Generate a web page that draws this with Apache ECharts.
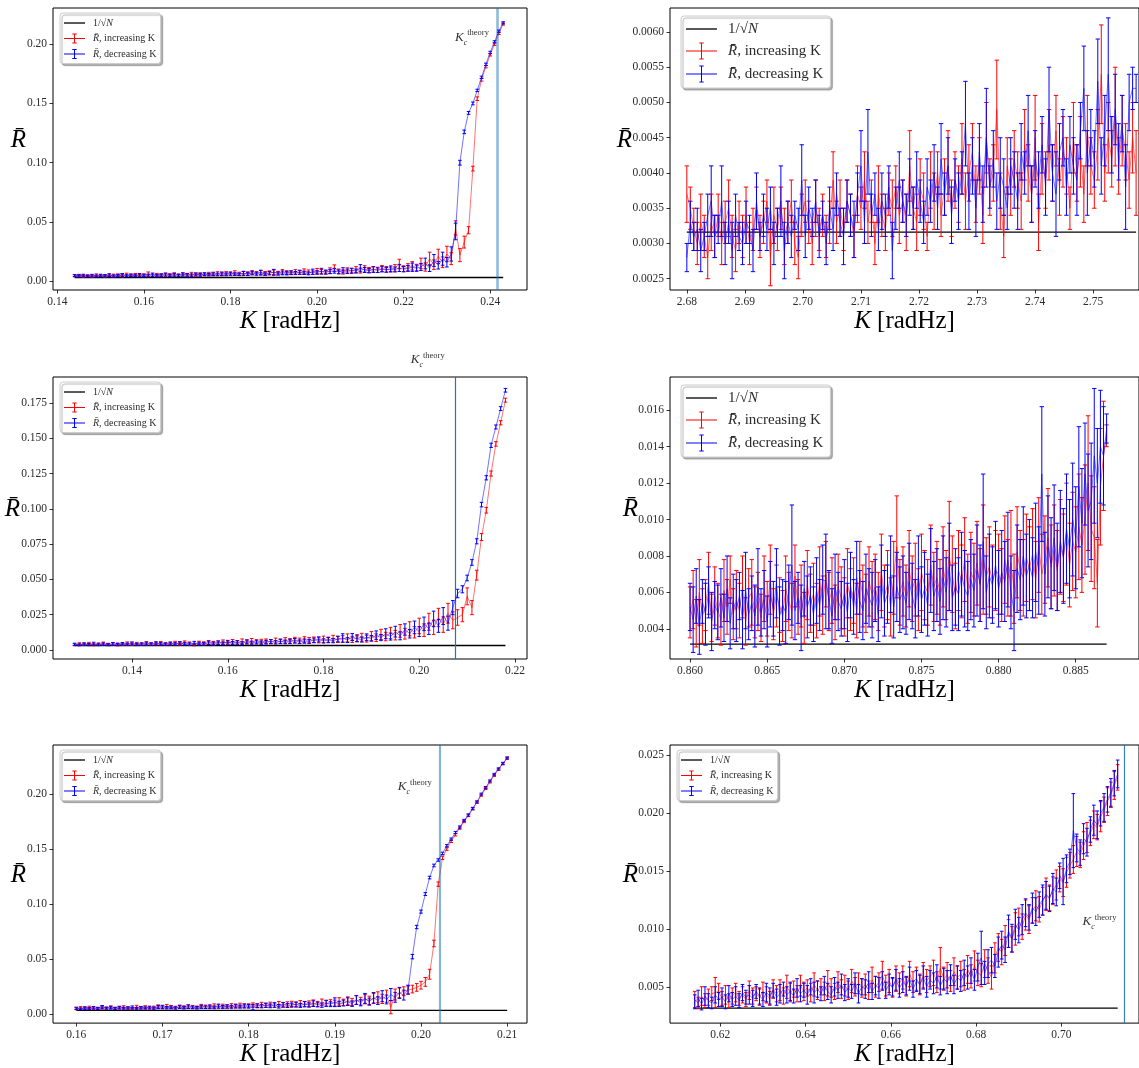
<!DOCTYPE html>
<html><head><meta charset="utf-8">
<script src="https://cdn.jsdelivr.net/npm/echarts@6.0.0/dist/echarts.min.js"></script>
<style>html,body{margin:0;padding:0;background:#fff}#c{width:1139px;height:1068px}</style>
</head><body><div id="c"></div><script>
// ---------------- DATA ----------------
const INV_SQRT_N = 0.00316;          // 1/sqrt(N)
const REF = '1/\u221AN';
const INC = 'R\u0304, increasing K';
const DEC = 'R\u0304, decreasing K';

// Panel 1 (top-left)
const p1KStart = 0.144, p1KStep = 0.001, p1Kc = 0.2416;
const p1Inc = [0.0046,0.0050,0.0044,0.0048,0.0043,0.0051,0.0047,0.0045,0.0050,0.0048,
0.0052,0.0047,0.0055,0.0049,0.0053,0.0048,0.0051,0.0058,0.0050,0.0054,
0.0049,0.0055,0.0052,0.0057,0.0051,0.0056,0.0054,0.0060,0.0053,0.0058,
0.0056,0.0061,0.0057,0.0064,0.0059,0.0066,0.0061,0.0070,0.0063,0.0068,
0.0065,0.0072,0.0066,0.0074,0.0068,0.0071,0.0076,0.0069,0.0078,0.0073,
0.0070,0.0079,0.0074,0.0083,0.0077,0.0072,0.0086,0.0080,0.0075,0.0089,
0.0110,0.0083,0.0078,0.0091,0.0086,0.0098,0.0090,0.0104,0.0094,0.0100,
0.0096,0.0107,0.0101,0.0098,0.0112,0.0145,0.0105,0.0118,0.0130,0.0115,
0.0150,0.0120,0.0190,0.0140,0.0210,0.0160,0.0230,0.0190,0.0450,0.0220,
0.0330,0.0430,0.0950,0.1540,0.1700,0.1810,0.1910,0.2000,0.2090,0.2170];
const p1IncErr = [0.0009,0.0008,0.0010,0.0007,0.0009,0.0011,0.0008,0.0010,0.0009,0.0012,
0.0009,0.0011,0.0013,0.0010,0.0012,0.0009,0.0011,0.0020,0.0010,0.0012,
0.0010,0.0012,0.0011,0.0014,0.0010,0.0013,0.0012,0.0015,0.0011,0.0013,
0.0012,0.0014,0.0012,0.0016,0.0013,0.0015,0.0014,0.0018,0.0013,0.0016,
0.0014,0.0017,0.0015,0.0018,0.0014,0.0016,0.0019,0.0015,0.0020,0.0016,
0.0015,0.0019,0.0016,0.0021,0.0018,0.0015,0.0022,0.0019,0.0016,0.0024,
0.0028,0.0020,0.0018,0.0022,0.0020,0.0025,0.0021,0.0027,0.0022,0.0024,
0.0022,0.0026,0.0024,0.0021,0.0028,0.0040,0.0025,0.0030,0.0035,0.0028,
0.0045,0.0035,0.0055,0.0040,0.0060,0.0045,0.0065,0.0050,0.0060,0.0055,
0.0050,0.0030,0.0020,0.0015,0.0012,0.0010,0.0010,0.0010,0.0009,0.0009];
const p1Dec = [0.0048,0.0045,0.0050,0.0043,0.0047,0.0044,0.0049,0.0046,0.0051,0.0045,
0.0048,0.0052,0.0046,0.0050,0.0047,0.0053,0.0049,0.0051,0.0055,0.0048,
0.0052,0.0056,0.0050,0.0054,0.0049,0.0057,0.0053,0.0051,0.0058,0.0054,
0.0060,0.0055,0.0062,0.0057,0.0063,0.0058,0.0065,0.0060,0.0058,0.0066,
0.0062,0.0069,0.0064,0.0072,0.0060,0.0068,0.0075,0.0065,0.0070,0.0067,
0.0073,0.0069,0.0076,0.0071,0.0066,0.0080,0.0074,0.0085,0.0078,0.0082,
0.0088,0.0079,0.0092,0.0084,0.0090,0.0086,0.0110,0.0095,0.0089,0.0098,
0.0093,0.0101,0.0096,0.0105,0.0099,0.0112,0.0102,0.0108,0.0118,0.0110,
0.0120,0.0150,0.0110,0.0175,0.0135,0.0190,0.0160,0.0230,0.0420,0.1000,
0.1260,0.1420,0.1500,0.1610,0.1720,0.1830,0.1930,0.2020,0.2110,0.2180];
const p1DecErr = [0.0008,0.0010,0.0009,0.0007,0.0011,0.0008,0.0010,0.0009,0.0012,0.0008,
0.0010,0.0013,0.0009,0.0011,0.0008,0.0012,0.0010,0.0009,0.0014,0.0010,
0.0011,0.0013,0.0009,0.0012,0.0010,0.0014,0.0011,0.0010,0.0013,0.0012,
0.0012,0.0010,0.0014,0.0011,0.0015,0.0012,0.0013,0.0011,0.0010,0.0016,
0.0013,0.0015,0.0012,0.0020,0.0011,0.0014,0.0025,0.0013,0.0016,0.0014,
0.0015,0.0013,0.0017,0.0014,0.0012,0.0022,0.0015,0.0024,0.0016,0.0018,
0.0020,0.0016,0.0022,0.0018,0.0020,0.0017,0.0030,0.0021,0.0018,0.0023,
0.0019,0.0022,0.0020,0.0024,0.0021,0.0030,0.0022,0.0025,0.0035,0.0026,
0.0030,0.0045,0.0028,0.0050,0.0032,0.0055,0.0040,0.0060,0.0070,0.0020,
0.0015,0.0012,0.0012,0.0010,0.0010,0.0010,0.0010,0.0009,0.0009,0.0009];
const p1XTicks = [0.14,0.16,0.18,0.20,0.22,0.24];
const p1YTicks = [0,0.05,0.10,0.15,0.20];

// Panel 2 (top-right)
const p2KStart = 2.680, p2KStep = 0.0006;
const p2Inc = [0.0037,0.0035,0.0032,0.0030,0.0033,0.0031,0.0028,0.0033,0.0031,0.0034,
0.0030,0.0033,0.0035,0.0031,0.0029,0.0033,0.0031,0.0034,0.0030,0.0032,
0.0035,0.0031,0.0033,0.0036,0.0028,0.0034,0.0032,0.0035,0.0031,0.0033,
0.0036,0.0030,0.0028,0.0034,0.0036,0.0033,0.0030,0.0035,0.0032,0.0034,
0.0031,0.0033,0.0039,0.0033,0.0035,0.0032,0.0036,0.0034,0.0031,0.0037,
0.0035,0.0039,0.0033,0.0036,0.0030,0.0037,0.0034,0.0032,0.0037,0.0035,
0.0038,0.0034,0.0036,0.0033,0.0041,0.0035,0.0033,0.0038,0.0036,0.0031,
0.0039,0.0036,0.0040,0.0034,0.0038,0.0041,0.0035,0.0039,0.0037,0.0042,
0.0036,0.0040,0.0043,0.0037,0.0041,0.0034,0.0045,0.0038,0.0040,0.0049,
0.0036,0.0031,0.0041,0.0038,0.0042,0.0039,0.0036,0.0044,0.0040,0.0037,
0.0045,0.0033,0.0042,0.0039,0.0044,0.0040,0.0046,0.0038,0.0043,0.0041,
0.0035,0.0045,0.0040,0.0043,0.0037,0.0046,0.0041,0.0039,0.0044,0.0054,
0.0040,0.0045,0.0042,0.0048,0.0041,0.0046,0.0043,0.0039,0.0045,0.0040];
const p2IncErr = [0.0004,0.0003,0.0003,0.0003,0.0004,0.0003,0.0003,0.0004,0.0003,0.0003,
0.0003,0.0003,0.0004,0.0003,0.0003,0.0003,0.0003,0.0004,0.0003,0.0003,
0.0003,0.0003,0.0003,0.0003,0.0004,0.0004,0.0003,0.0003,0.0004,0.0003,
0.0003,0.0003,0.0003,0.0003,0.0003,0.0003,0.0003,0.0004,0.0003,0.0003,
0.0003,0.0003,0.0004,0.0003,0.0004,0.0003,0.0003,0.0003,0.0003,0.0004,
0.0003,0.0004,0.0003,0.0003,0.0003,0.0004,0.0003,0.0003,0.0003,0.0004,
0.0003,0.0004,0.0003,0.0004,0.0005,0.0003,0.0004,0.0004,0.0004,0.0002,
0.0004,0.0004,0.0003,0.0003,0.0004,0.0005,0.0004,0.0004,0.0004,0.0005,
0.0004,0.0004,0.0004,0.0004,0.0004,0.0004,0.0005,0.0004,0.0004,0.0007,
0.0004,0.0003,0.0004,0.0004,0.0004,0.0004,0.0004,0.0005,0.0004,0.0004,
0.0006,0.0004,0.0005,0.0004,0.0005,0.0004,0.0005,0.0004,0.0005,0.0004,
0.0003,0.0005,0.0004,0.0005,0.0004,0.0005,0.0004,0.0004,0.0005,0.0007,
0.0004,0.0005,0.0004,0.0007,0.0004,0.0005,0.0004,0.0004,0.0005,0.0006];
const p2Dec = [0.0028,0.0033,0.0031,0.0032,0.0029,0.0031,0.0034,0.0036,0.0031,0.0032,
0.0036,0.0030,0.0033,0.0029,0.0034,0.0031,0.0030,0.0033,0.0032,0.0029,
0.0036,0.0031,0.0034,0.0032,0.0035,0.0030,0.0033,0.0036,0.0029,0.0033,
0.0031,0.0034,0.0032,0.0039,0.0031,0.0035,0.0033,0.0036,0.0031,0.0034,
0.0030,0.0035,0.0032,0.0037,0.0033,0.0031,0.0036,0.0034,0.0032,0.0037,
0.0041,0.0033,0.0043,0.0034,0.0037,0.0032,0.0036,0.0034,0.0038,0.0029,
0.0035,0.0039,0.0036,0.0034,0.0038,0.0035,0.0039,0.0036,0.0033,0.0038,
0.0036,0.0040,0.0035,0.0042,0.0037,0.0041,0.0034,0.0039,0.0036,0.0040,
0.0047,0.0036,0.0041,0.0035,0.0043,0.0037,0.0045,0.0038,0.0042,0.0036,
0.0040,0.0038,0.0035,0.0041,0.0039,0.0036,0.0043,0.0040,0.0046,0.0037,
0.0042,0.0039,0.0044,0.0038,0.0049,0.0040,0.0037,0.0043,0.0045,0.0038,
0.0044,0.0041,0.0039,0.0046,0.0052,0.0040,0.0045,0.0042,0.0053,0.0041,
0.0046,0.0054,0.0044,0.0049,0.0043,0.0047,0.0038,0.0050,0.0052,0.0052];
const p2DecErr = [0.0002,0.0003,0.0002,0.0003,0.0003,0.0002,0.0003,0.0005,0.0003,0.0002,
0.0005,0.0003,0.0003,0.0004,0.0003,0.0002,0.0003,0.0003,0.0002,0.0003,
0.0004,0.0002,0.0003,0.0003,0.0003,0.0003,0.0002,0.0005,0.0004,0.0003,
0.0003,0.0002,0.0003,0.0005,0.0003,0.0003,0.0002,0.0003,0.0003,0.0002,
0.0003,0.0003,0.0003,0.0003,0.0002,0.0004,0.0003,0.0003,0.0004,0.0003,
0.0005,0.0003,0.0006,0.0003,0.0003,0.0003,0.0004,0.0003,0.0003,0.0004,
0.0003,0.0004,0.0003,0.0003,0.0004,0.0003,0.0004,0.0003,0.0003,0.0004,
0.0003,0.0004,0.0003,0.0005,0.0003,0.0004,0.0004,0.0003,0.0004,0.0003,
0.0006,0.0004,0.0004,0.0004,0.0004,0.0004,0.0007,0.0003,0.0004,0.0004,
0.0005,0.0004,0.0003,0.0004,0.0004,0.0004,0.0004,0.0003,0.0005,0.0004,
0.0004,0.0004,0.0004,0.0004,0.0006,0.0004,0.0006,0.0004,0.0004,0.0004,
0.0004,0.0004,0.0005,0.0004,0.0006,0.0006,0.0004,0.0004,0.0006,0.0004,
0.0005,0.0008,0.0004,0.0005,0.0004,0.0004,0.0006,0.0004,0.0003,0.0002];
const p2XTicks = [2.68,2.69,2.70,2.71,2.72,2.73,2.74,2.75];
const p2YTicks = [0.0025,0.0030,0.0035,0.0040,0.0045,0.0050,0.0055,0.0060];

// Panel 3 (middle-left)
const p3KStart = 0.128, p3KStep = 0.001, p3Kc = 0.2076;
const p3Inc = [0.0037,0.0042,0.0039,0.0044,0.0036,0.0041,0.0045,0.0038,0.0043,0.0040,
0.0039,0.0046,0.0041,0.0044,0.0040,0.0047,0.0042,0.0045,0.0048,0.0043,
0.0045,0.0049,0.0044,0.0051,0.0046,0.0038,0.0050,0.0047,0.0053,0.0049,
0.0051,0.0056,0.0050,0.0058,0.0054,0.0061,0.0055,0.0063,0.0057,0.0060,
0.0062,0.0058,0.0066,0.0060,0.0068,0.0064,0.0070,0.0066,0.0073,0.0069,
0.0072,0.0068,0.0076,0.0071,0.0080,0.0074,0.0078,0.0086,0.0075,0.0083,
0.0090,0.0080,0.0098,0.0087,0.0110,0.0095,0.0120,0.0105,0.0135,0.0115,
0.0150,0.0125,0.0170,0.0140,0.0200,0.0160,0.0230,0.0180,0.0260,0.0210,
0.0230,0.0250,0.0380,0.0300,0.0530,0.0800,0.0990,0.1250,0.1460,0.1610,0.1770];
const p3IncErr = [0.0007,0.0009,0.0008,0.0010,0.0007,0.0009,0.0011,0.0008,0.0010,0.0009,
0.0008,0.0011,0.0009,0.0010,0.0008,0.0012,0.0009,0.0010,0.0012,0.0009,
0.0010,0.0012,0.0010,0.0013,0.0011,0.0009,0.0012,0.0011,0.0014,0.0012,
0.0012,0.0015,0.0012,0.0016,0.0013,0.0017,0.0014,0.0018,0.0015,0.0016,
0.0016,0.0015,0.0018,0.0016,0.0019,0.0017,0.0020,0.0018,0.0021,0.0019,
0.0020,0.0018,0.0022,0.0020,0.0024,0.0021,0.0023,0.0028,0.0022,0.0026,
0.0028,0.0024,0.0032,0.0027,0.0036,0.0030,0.0040,0.0034,0.0045,0.0038,
0.0050,0.0040,0.0055,0.0045,0.0060,0.0050,0.0065,0.0055,0.0070,0.0060,
0.0055,0.0050,0.0060,0.0050,0.0035,0.0025,0.0020,0.0018,0.0016,0.0015,0.0014];
const p3Dec = [0.0040,0.0036,0.0042,0.0038,0.0045,0.0037,0.0041,0.0039,0.0043,0.0038,
0.0044,0.0040,0.0046,0.0039,0.0042,0.0045,0.0041,0.0047,0.0043,0.0040,
0.0046,0.0042,0.0048,0.0044,0.0041,0.0049,0.0045,0.0043,0.0050,0.0046,
0.0052,0.0047,0.0055,0.0049,0.0053,0.0048,0.0058,0.0051,0.0056,0.0052,
0.0055,0.0060,0.0054,0.0062,0.0057,0.0059,0.0065,0.0058,0.0063,0.0061,
0.0068,0.0075,0.0064,0.0071,0.0066,0.0078,0.0085,0.0070,0.0092,0.0080,
0.0074,0.0090,0.0082,0.0105,0.0088,0.0115,0.0095,0.0130,0.0100,0.0145,
0.0115,0.0160,0.0130,0.0185,0.0150,0.0220,0.0170,0.0240,0.0190,0.0300,
0.0400,0.0430,0.0510,0.0620,0.0770,0.1030,0.1220,0.1450,0.1580,0.1710,0.1840];
const p3DecErr = [0.0008,0.0007,0.0009,0.0008,0.0010,0.0007,0.0009,0.0008,0.0010,0.0008,
0.0009,0.0008,0.0011,0.0008,0.0009,0.0010,0.0009,0.0011,0.0009,0.0008,
0.0010,0.0009,0.0011,0.0010,0.0009,0.0012,0.0010,0.0009,0.0012,0.0010,
0.0012,0.0010,0.0013,0.0011,0.0012,0.0010,0.0014,0.0011,0.0013,0.0012,
0.0013,0.0014,0.0012,0.0015,0.0013,0.0014,0.0016,0.0013,0.0015,0.0014,
0.0016,0.0018,0.0015,0.0017,0.0015,0.0020,0.0030,0.0017,0.0025,0.0020,
0.0018,0.0024,0.0020,0.0030,0.0022,0.0035,0.0025,0.0038,0.0028,0.0040,
0.0030,0.0045,0.0035,0.0048,0.0040,0.0055,0.0045,0.0060,0.0050,0.0050,
0.0030,0.0025,0.0020,0.0020,0.0018,0.0016,0.0015,0.0015,0.0014,0.0014,0.0013];
const p3XTicks = [0.14,0.16,0.18,0.20,0.22];
const p3YTicks = [0,0.025,0.050,0.075,0.100,0.125,0.150,0.175];

// Panel 4 (middle-right)
const p4KStart = 0.860, p4KStep = 0.0002;
const p4Inc = [0.0049,0.0056,0.0043,0.0060,0.0047,0.0053,0.0065,0.0046,0.0058,0.0050,
0.0045,0.0061,0.0052,0.0067,0.0048,0.0056,0.0050,0.0063,0.0044,0.0057,
0.0060,0.0049,0.0055,0.0046,0.0062,0.0051,0.0067,0.0048,0.0058,0.0053,
0.0047,0.0062,0.0055,0.0050,0.0069,0.0052,0.0058,0.0046,0.0064,0.0054,
0.0059,0.0050,0.0066,0.0053,0.0070,0.0055,0.0061,0.0049,0.0063,0.0057,
0.0052,0.0065,0.0056,0.0061,0.0050,0.0068,0.0058,0.0054,0.0066,0.0059,
0.0063,0.0055,0.0071,0.0058,0.0064,0.0052,0.0068,0.0085,0.0060,0.0066,
0.0058,0.0073,0.0062,0.0067,0.0056,0.0071,0.0064,0.0060,0.0075,0.0063,
0.0068,0.0060,0.0074,0.0064,0.0080,0.0070,0.0058,0.0072,0.0066,0.0078,
0.0062,0.0071,0.0067,0.0076,0.0064,0.0078,0.0069,0.0074,0.0066,0.0072,
0.0070,0.0064,0.0078,0.0068,0.0076,0.0062,0.0082,0.0072,0.0068,0.0079,
0.0073,0.0081,0.0067,0.0086,0.0070,0.0078,0.0090,0.0074,0.0083,0.0072,
0.0085,0.0079,0.0092,0.0075,0.0088,0.0082,0.0096,0.0086,0.0100,0.0120,
0.0095,0.0090,0.0065,0.0118,0.0135,0.0146];
const p4IncErr = [0.0014,0.0016,0.0013,0.0018,0.0015,0.0014,0.0017,0.0013,0.0016,0.0015,
0.0014,0.0017,0.0015,0.0013,0.0014,0.0016,0.0015,0.0017,0.0013,0.0016,
0.0018,0.0014,0.0016,0.0013,0.0018,0.0015,0.0019,0.0014,0.0017,0.0015,
0.0014,0.0018,0.0016,0.0015,0.0017,0.0015,0.0017,0.0014,0.0019,0.0016,
0.0017,0.0015,0.0019,0.0016,0.0018,0.0016,0.0018,0.0015,0.0018,0.0017,
0.0016,0.0019,0.0017,0.0018,0.0015,0.0020,0.0017,0.0016,0.0019,0.0018,
0.0018,0.0016,0.0021,0.0017,0.0019,0.0016,0.0020,0.0028,0.0018,0.0019,
0.0017,0.0021,0.0018,0.0020,0.0017,0.0021,0.0019,0.0018,0.0022,0.0019,
0.0020,0.0018,0.0022,0.0019,0.0030,0.0021,0.0018,0.0022,0.0020,0.0023,
0.0019,0.0022,0.0020,0.0023,0.0020,0.0030,0.0021,0.0022,0.0020,0.0022,
0.0022,0.0020,0.0024,0.0021,0.0029,0.0019,0.0025,0.0022,0.0021,0.0024,
0.0023,0.0025,0.0021,0.0026,0.0022,0.0024,0.0027,0.0023,0.0025,0.0022,
0.0026,0.0024,0.0028,0.0023,0.0027,0.0025,0.0029,0.0026,0.0030,0.0037,
0.0029,0.0028,0.0024,0.0032,0.0030,0.0006];
const p4Dec = [0.0052,0.0045,0.0058,0.0041,0.0055,0.0048,0.0060,0.0044,0.0053,0.0049,
0.0057,0.0046,0.0062,0.0043,0.0055,0.0050,0.0058,0.0045,0.0061,0.0048,
0.0054,0.0047,0.0063,0.0049,0.0056,0.0044,0.0059,0.0051,0.0065,0.0047,
0.0053,0.0049,0.0060,0.0075,0.0050,0.0057,0.0046,0.0062,0.0052,0.0058,
0.0048,0.0061,0.0053,0.0067,0.0066,0.0056,0.0047,0.0063,0.0055,0.0051,
0.0059,0.0049,0.0064,0.0052,0.0068,0.0055,0.0050,0.0062,0.0057,0.0053,
0.0061,0.0048,0.0066,0.0054,0.0059,0.0070,0.0052,0.0063,0.0056,0.0060,
0.0054,0.0066,0.0058,0.0051,0.0069,0.0056,0.0062,0.0053,0.0072,0.0058,
0.0064,0.0055,0.0068,0.0060,0.0074,0.0057,0.0063,0.0059,0.0070,0.0062,
0.0058,0.0067,0.0061,0.0072,0.0065,0.0088,0.0060,0.0069,0.0064,0.0075,
0.0062,0.0071,0.0066,0.0078,0.0060,0.0050,0.0073,0.0067,0.0080,0.0069,
0.0075,0.0068,0.0082,0.0072,0.0125,0.0070,0.0085,0.0076,0.0090,0.0074,
0.0088,0.0080,0.0095,0.0084,0.0100,0.0090,0.0118,0.0098,0.0125,0.0105,
0.0110,0.0135,0.0120,0.0140,0.0135,0.0150];
const p4DecErr = [0.0013,0.0018,0.0015,0.0015,0.0012,0.0017,0.0014,0.0016,0.0013,0.0015,
0.0016,0.0013,0.0018,0.0014,0.0015,0.0017,0.0013,0.0016,0.0021,0.0014,
0.0015,0.0017,0.0021,0.0013,0.0016,0.0014,0.0018,0.0015,0.0019,0.0016,
0.0014,0.0017,0.0015,0.0033,0.0016,0.0014,0.0018,0.0015,0.0017,0.0016,
0.0015,0.0018,0.0014,0.0019,0.0026,0.0016,0.0015,0.0018,0.0016,0.0015,
0.0019,0.0016,0.0018,0.0015,0.0020,0.0017,0.0016,0.0019,0.0016,0.0018,
0.0017,0.0015,0.0020,0.0018,0.0016,0.0021,0.0017,0.0019,0.0018,0.0020,
0.0017,0.0021,0.0018,0.0016,0.0022,0.0018,0.0020,0.0017,0.0023,0.0019,
0.0020,0.0018,0.0023,0.0019,0.0024,0.0018,0.0021,0.0020,0.0023,0.0021,
0.0019,0.0022,0.0020,0.0025,0.0021,0.0037,0.0020,0.0023,0.0021,0.0024,
0.0021,0.0023,0.0022,0.0026,0.0020,0.0022,0.0024,0.0022,0.0027,0.0023,
0.0025,0.0022,0.0027,0.0024,0.0037,0.0023,0.0028,0.0025,0.0029,0.0024,
0.0028,0.0026,0.0030,0.0027,0.0031,0.0028,0.0033,0.0030,0.0028,0.0031,
0.0032,0.0037,0.0030,0.0031,0.0027,0.0008];
const p4XTicks = [0.860,0.865,0.870,0.875,0.880,0.885];
const p4YTicks = [0.004,0.006,0.008,0.010,0.012,0.014,0.016];

// Panel 5 (bottom-left)
const p5KStart = 0.160, p5KStep = 0.0005, p5Kc = 0.2022;
const p5Inc = [0.0046,0.0053,0.0048,0.0056,0.0050,0.0047,0.0055,0.0051,0.0058,0.0049,
0.0054,0.0059,0.0052,0.0048,0.0062,0.0055,0.0060,0.0053,0.0057,0.0065,
0.0058,0.0068,0.0060,0.0056,0.0064,0.0059,0.0066,0.0062,0.0058,0.0069,
0.0064,0.0060,0.0072,0.0066,0.0070,0.0065,0.0074,0.0068,0.0077,0.0070,
0.0073,0.0079,0.0071,0.0082,0.0076,0.0084,0.0078,0.0088,0.0081,0.0086,
0.0090,0.0083,0.0094,0.0087,0.0092,0.0098,0.0089,0.0104,0.0095,0.0100,
0.0097,0.0112,0.0103,0.0118,0.0108,0.0125,0.0115,0.0132,0.0122,0.0140,
0.0150,0.0135,0.0160,0.0060,0.0175,0.0190,0.0205,0.0215,0.0225,0.0240,
0.0260,0.0290,0.0360,0.0640,0.1180,0.1420,0.1500,0.1570,0.1630,0.1690,
0.1750,0.1805,0.1865,0.1925,0.1990,0.2050,0.2110,0.2170,0.2225,0.2275,0.2325];
const p5IncErr = [0.0009,0.0012,0.0010,0.0013,0.0011,0.0009,0.0012,0.0010,0.0014,0.0010,
0.0011,0.0014,0.0011,0.0010,0.0015,0.0012,0.0013,0.0011,0.0012,0.0016,
0.0013,0.0017,0.0014,0.0012,0.0015,0.0013,0.0016,0.0014,0.0012,0.0017,
0.0015,0.0013,0.0018,0.0015,0.0017,0.0015,0.0018,0.0016,0.0019,0.0017,
0.0018,0.0020,0.0017,0.0022,0.0019,0.0022,0.0020,0.0024,0.0021,0.0023,
0.0024,0.0022,0.0026,0.0023,0.0025,0.0028,0.0024,0.0030,0.0026,0.0028,
0.0027,0.0034,0.0030,0.0036,0.0032,0.0040,0.0035,0.0042,0.0038,0.0045,
0.0050,0.0042,0.0055,0.0060,0.0050,0.0045,0.0040,0.0038,0.0035,0.0035,
0.0035,0.0040,0.0045,0.0030,0.0020,0.0015,0.0012,0.0011,0.0011,0.0010,
0.0010,0.0010,0.0010,0.0009,0.0009,0.0009,0.0009,0.0009,0.0009,0.0009,0.0009];
const p5Dec = [0.0050,0.0045,0.0052,0.0047,0.0055,0.0049,0.0060,0.0051,0.0054,0.0048,
0.0056,0.0050,0.0053,0.0058,0.0049,0.0055,0.0052,0.0057,0.0051,0.0060,
0.0062,0.0055,0.0058,0.0053,0.0061,0.0056,0.0064,0.0058,0.0055,0.0063,
0.0060,0.0066,0.0058,0.0070,0.0062,0.0067,0.0063,0.0071,0.0065,0.0072,
0.0068,0.0060,0.0074,0.0070,0.0078,0.0072,0.0080,0.0068,0.0082,0.0075,
0.0079,0.0085,0.0076,0.0088,0.0080,0.0092,0.0084,0.0078,0.0095,0.0087,
0.0105,0.0090,0.0098,0.0110,0.0092,0.0125,0.0100,0.0140,0.0110,0.0145,
0.0120,0.0160,0.0130,0.0175,0.0150,0.0190,0.0170,0.0220,0.0520,0.0790,
0.0930,0.1090,0.1240,0.1350,0.1400,0.1460,0.1530,0.1590,0.1650,0.1700,
0.1760,0.1810,0.1870,0.1930,0.2000,0.2060,0.2120,0.2180,0.2230,0.2280,0.2330];
const p5DecErr = [0.0010,0.0008,0.0012,0.0009,0.0011,0.0010,0.0015,0.0009,0.0011,0.0010,
0.0012,0.0009,0.0010,0.0013,0.0009,0.0011,0.0010,0.0012,0.0010,0.0014,
0.0015,0.0011,0.0012,0.0010,0.0013,0.0011,0.0016,0.0012,0.0011,0.0014,
0.0012,0.0015,0.0012,0.0018,0.0013,0.0015,0.0013,0.0017,0.0014,0.0018,
0.0016,0.0025,0.0017,0.0016,0.0019,0.0017,0.0020,0.0016,0.0021,0.0018,
0.0019,0.0022,0.0018,0.0024,0.0020,0.0026,0.0021,0.0019,0.0028,0.0022,
0.0040,0.0024,0.0026,0.0035,0.0025,0.0040,0.0028,0.0045,0.0032,0.0048,
0.0035,0.0050,0.0040,0.0055,0.0045,0.0050,0.0045,0.0040,0.0020,0.0015,
0.0014,0.0013,0.0012,0.0012,0.0011,0.0011,0.0010,0.0010,0.0010,0.0010,
0.0010,0.0010,0.0009,0.0009,0.0009,0.0009,0.0009,0.0009,0.0009,0.0009,0.0009];
const p5XTicks = [0.16,0.17,0.18,0.19,0.20,0.21];
const p5YTicks = [0,0.05,0.10,0.15,0.20];

// Panel 6 (bottom-right)
const p6KStart = 0.614, p6KStep = 0.0008, p6Kc = 0.7147;
const p6Inc = [0.0039,0.0036,0.0042,0.0038,0.0041,0.0044,0.0045,0.0046,0.0040,0.0043,
0.0038,0.0042,0.0045,0.0040,0.0043,0.0039,0.0047,0.0042,0.0044,0.0041,
0.0046,0.0043,0.0040,0.0048,0.0044,0.0047,0.0042,0.0050,0.0045,0.0048,
0.0044,0.0051,0.0046,0.0049,0.0045,0.0052,0.0047,0.0050,0.0046,0.0053,
0.0049,0.0046,0.0054,0.0048,0.0051,0.0047,0.0055,0.0050,0.0053,0.0049,
0.0052,0.0047,0.0056,0.0050,0.0054,0.0060,0.0051,0.0055,0.0049,0.0057,
0.0053,0.0058,0.0050,0.0061,0.0054,0.0057,0.0052,0.0060,0.0055,0.0059,
0.0062,0.0054,0.0066,0.0057,0.0060,0.0055,0.0063,0.0058,0.0061,0.0056,
0.0065,0.0059,0.0068,0.0062,0.0060,0.0070,0.0064,0.0058,0.0075,0.0084,
0.0080,0.0090,0.0096,0.0091,0.0100,0.0106,0.0102,0.0112,0.0108,0.0116,
0.0120,0.0117,0.0124,0.0130,0.0127,0.0133,0.0138,0.0143,0.0140,0.0149,
0.0155,0.0160,0.0167,0.0164,0.0172,0.0179,0.0183,0.0190,0.0188,0.0197,
0.0203,0.0210,0.0216,0.0224,0.0231];
const p6IncErr = [0.0007,0.0005,0.0008,0.0006,0.0007,0.0006,0.0013,0.0007,0.0006,0.0008,
0.0006,0.0007,0.0008,0.0006,0.0007,0.0006,0.0008,0.0007,0.0006,0.0007,
0.0008,0.0007,0.0006,0.0008,0.0007,0.0009,0.0007,0.0010,0.0008,0.0007,
0.0007,0.0009,0.0008,0.0007,0.0008,0.0010,0.0008,0.0007,0.0008,0.0011,
0.0008,0.0007,0.0009,0.0008,0.0009,0.0008,0.0010,0.0008,0.0009,0.0008,
0.0009,0.0008,0.0011,0.0009,0.0008,0.0012,0.0009,0.0010,0.0008,0.0011,
0.0009,0.0010,0.0008,0.0011,0.0009,0.0010,0.0009,0.0011,0.0010,0.0009,
0.0011,0.0009,0.0018,0.0010,0.0011,0.0009,0.0012,0.0010,0.0011,0.0009,
0.0012,0.0010,0.0013,0.0011,0.0010,0.0012,0.0011,0.0010,0.0013,0.0012,
0.0011,0.0013,0.0012,0.0011,0.0014,0.0012,0.0011,0.0013,0.0012,0.0011,
0.0013,0.0011,0.0012,0.0014,0.0011,0.0012,0.0013,0.0011,0.0012,0.0013,
0.0011,0.0012,0.0013,0.0011,0.0012,0.0013,0.0011,0.0012,0.0011,0.0013,
0.0011,0.0012,0.0011,0.0012,0.0011];
const p6Dec = [0.0037,0.0040,0.0035,0.0042,0.0038,0.0036,0.0043,0.0039,0.0041,0.0037,
0.0044,0.0039,0.0042,0.0038,0.0045,0.0041,0.0043,0.0040,0.0046,0.0042,
0.0039,0.0045,0.0042,0.0047,0.0041,0.0044,0.0048,0.0043,0.0046,0.0042,
0.0049,0.0044,0.0047,0.0043,0.0050,0.0045,0.0048,0.0044,0.0051,0.0046,
0.0043,0.0050,0.0047,0.0052,0.0045,0.0049,0.0046,0.0053,0.0044,0.0050,
0.0048,0.0054,0.0046,0.0051,0.0049,0.0055,0.0047,0.0052,0.0050,0.0056,
0.0049,0.0054,0.0051,0.0057,0.0048,0.0055,0.0052,0.0058,0.0050,0.0056,
0.0053,0.0059,0.0051,0.0057,0.0054,0.0060,0.0052,0.0058,0.0055,0.0062,
0.0058,0.0064,0.0056,0.0067,0.0075,0.0062,0.0070,0.0073,0.0068,0.0080,
0.0086,0.0082,0.0098,0.0092,0.0104,0.0099,0.0108,0.0114,0.0110,0.0118,
0.0115,0.0121,0.0125,0.0129,0.0126,0.0135,0.0132,0.0146,0.0141,0.0152,
0.0158,0.0185,0.0170,0.0166,0.0178,0.0175,0.0186,0.0194,0.0190,0.0200,
0.0205,0.0212,0.0218,0.0226,0.0234];
const p6DecErr = [0.0006,0.0007,0.0005,0.0008,0.0006,0.0005,0.0007,0.0006,0.0008,0.0006,
0.0007,0.0006,0.0008,0.0006,0.0007,0.0006,0.0008,0.0007,0.0006,0.0007,
0.0006,0.0008,0.0007,0.0006,0.0007,0.0008,0.0006,0.0007,0.0008,0.0006,
0.0008,0.0007,0.0006,0.0008,0.0007,0.0009,0.0007,0.0006,0.0008,0.0007,
0.0007,0.0008,0.0007,0.0009,0.0007,0.0008,0.0006,0.0009,0.0008,0.0007,
0.0008,0.0009,0.0007,0.0008,0.0009,0.0008,0.0007,0.0009,0.0008,0.0009,
0.0008,0.0009,0.0008,0.0010,0.0007,0.0009,0.0008,0.0010,0.0009,0.0008,
0.0009,0.0010,0.0008,0.0009,0.0010,0.0009,0.0008,0.0010,0.0009,0.0011,
0.0010,0.0011,0.0009,0.0012,0.0023,0.0010,0.0012,0.0011,0.0010,0.0013,
0.0012,0.0011,0.0014,0.0012,0.0013,0.0011,0.0013,0.0012,0.0011,0.0013,
0.0012,0.0011,0.0013,0.0012,0.0011,0.0013,0.0012,0.0011,0.0020,0.0012,
0.0011,0.0032,0.0012,0.0011,0.0013,0.0012,0.0011,0.0013,0.0012,0.0011,
0.0012,0.0011,0.0012,0.0011,0.0012];
const p6XTicks = [0.62,0.64,0.66,0.68,0.70];
const p6YTicks = [0.005,0.010,0.015,0.020,0.025];

// ---------------- LAYOUT / STYLE ----------------
const panels = [
 {kStart:p1KStart,kStep:p1KStep,inc:p1Inc,incErr:p1IncErr,dec:p1Dec,decErr:p1DecErr,xt:p1XTicks,yt:p1YTicks,kc:p1Kc,
  left:53,top:8,xMin:0.139,xMax:0.2485,yMin:-0.0074,yMax:0.2305,xd:2,yd:2,yGap:27,big:false,
  kcStyle:{color:'#1f77b4',width:2.6,opacity:0.5},kcLabel:[0.2397,0.2057]},
 {kStart:p2KStart,kStep:p2KStep,inc:p2Inc,incErr:p2IncErr,dec:p2Dec,decErr:p2DecErr,xt:p2XTicks,yt:p2YTicks,kc:null,
  left:670,top:8,xMin:2.6771,xMax:2.7579,yMin:0.00234,yMax:0.00634,xd:2,yd:4,yGap:38,big:true},
 {kStart:p3KStart,kStep:p3KStep,inc:p3Inc,incErr:p3IncErr,dec:p3Dec,decErr:p3DecErr,xt:p3XTicks,yt:p3YTicks,kc:p3Kc,
  left:53,top:377,xMin:0.1235,xMax:0.2225,yMin:-0.0064,yMax:0.1934,xd:2,yd:3,yGap:33,big:false,
  kcStyle:{color:'#1f77b4',width:1.2,opacity:1},kcLabel:[0.2053,0.2055]},
 {kStart:p4KStart,kStep:p4KStep,inc:p4Inc,incErr:p4IncErr,dec:p4Dec,decErr:p4DecErr,xt:p4XTicks,yt:p4YTicks,kc:null,
  left:670,top:377,xMin:0.8587,xMax:0.8891,yMin:0.00234,yMax:0.01783,xd:3,yd:3,yGap:32,big:true},
 {kStart:p5KStart,kStep:p5KStep,inc:p5Inc,incErr:p5IncErr,dec:p5Dec,decErr:p5DecErr,xt:p5XTicks,yt:p5YTicks,kc:p5Kc,
  left:53,top:745,xMin:0.1573,xMax:0.2123,yMin:-0.0085,yMax:0.2447,xd:2,yd:2,yGap:27,big:false,
  kcStyle:{color:'#1f77b4',width:2.2,opacity:0.55},kcLabel:[0.20125,0.2064]},
 {kStart:p6KStart,kStep:p6KStep,inc:p6Inc,incErr:p6IncErr,dec:p6Dec,decErr:p6DecErr,xt:p6XTicks,yt:p6YTicks,kc:p6Kc,
  left:670,top:745,xMin:0.6082,xMax:0.7182,yMin:0.00186,yMax:0.0259,xd:2,yd:3,yGap:32,big:false,
  kcStyle:{color:'#1f77b4',width:1.2,opacity:0.9},kcLabel:[0.7129,0.0106]}
];
const GW = 474, GH = 282;
const SERIF = "'Liberation Serif','DejaVu Serif',serif";
const RED = '#ff0000', BLUE = '#0000ff';

panels.forEach((p, i) => {
  if (p.inc.length !== p.incErr.length || p.dec.length !== p.decErr.length || p.inc.length !== p.dec.length)
    throw new Error('length mismatch panel ' + (i + 1));
});

function points(start, step, vals, errs) {
  return vals.map((v, i) => [+(start + i * step).toFixed(6), v, errs[i]]);
}
function errorBars(color, capHalf) {
  return function (params, api) {
    const x = api.value(0), y = api.value(1), e = api.value(2);
    const t = api.coord([x, y + e]), b = api.coord([x, y - e]);
    const st = { stroke: color, lineWidth: 1 };
    return { type: 'group', children: [
      { type: 'line', shape: { x1: t[0], y1: t[1], x2: b[0], y2: b[1] }, style: st },
      { type: 'line', shape: { x1: t[0] - capHalf, y1: t[1], x2: t[0] + capHalf, y2: t[1] }, style: st },
      { type: 'line', shape: { x1: b[0] - capHalf, y1: b[1], x2: b[0] + capHalf, y2: b[1] }, style: st }
    ]};
  };
}
function errIcon(w, h) {
  const c = w / 2, m = h / 2, t = 0.5, cap = 2.2;
  return 'path://M0,' + (m - t) + 'L' + w + ',' + (m - t) + 'L' + w + ',' + (m + t) + 'L0,' + (m + t) + 'Z' +
    'M' + (c - t) + ',0L' + (c + t) + ',0L' + (c + t) + ',' + h + 'L' + (c - t) + ',' + h + 'Z' +
    'M' + (c - cap) + ',0L' + (c + cap) + ',0L' + (c + cap) + ',1L' + (c - cap) + ',1Z' +
    'M' + (c - cap) + ',' + (h - 1) + 'L' + (c + cap) + ',' + (h - 1) + 'L' + (c + cap) + ',' + h + 'L' + (c - cap) + ',' + h + 'Z';
}
function lineIcon(w) { return 'path://M0,0L' + w + ',0L' + w + ',1.3L0,1.3Z'; }

const grids = [], xAxes = [], yAxes = [], series = [], legends = [];
panels.forEach((p, gi) => {
  grids.push({ left: p.left, top: p.top, width: GW, height: GH, show: true, borderColor: '#000', borderWidth: 1, containLabel: false });
  const lab = { fontFamily: SERIF, fontSize: 11.5, color: '#2b2b2b' };
  xAxes.push({
    type: 'value', gridIndex: gi, min: p.xMin, max: p.xMax,
    axisLine: { show: false, onZero: false },
    axisTick: { show: true, length: 3.5, lineStyle: { color: '#000', width: 0.8 }, customValues: p.xt },
    axisLabel: Object.assign({ margin: 6, customValues: p.xt, formatter: v => (+v).toFixed(p.xd) }, lab),
    splitLine: { show: false },
    name: '{i|K} [radHz]', nameLocation: 'middle', nameGap: 14,
    nameTextStyle: { fontFamily: SERIF, fontSize: 25, color: '#000',
      rich: { i: { fontFamily: SERIF, fontSize: 25, fontStyle: 'italic', color: '#000' } } }
  });
  yAxes.push({
    type: 'value', gridIndex: gi, min: p.yMin, max: p.yMax,
    axisLine: { show: false, onZero: false },
    axisTick: { show: true, length: 3.5, lineStyle: { color: '#000', width: 0.8 }, customValues: p.yt },
    axisLabel: Object.assign({ margin: 6, customValues: p.yt, formatter: v => (+v).toFixed(p.yd) }, lab),
    splitLine: { show: false },
    name: '{i|R\u0304}', nameLocation: 'middle', nameRotate: 0, nameGap: p.yGap, nameMoveOverlap: false,
    nameTextStyle: { fontFamily: SERIF, fontSize: 25, color: '#000', align: 'right', verticalAlign: 'bottom', lineHeight: 17,
      rich: { i: { fontFamily: SERIF, fontSize: 25, fontStyle: 'italic', color: '#000', lineHeight: 17 } } }
  });

  const inc = points(p.kStart, p.kStep, p.inc, p.incErr);
  const dec = points(p.kStart, p.kStep, p.dec, p.decErr);
  const k0 = inc[0][0], k1 = inc[inc.length - 1][0];

  const ref = {
    name: REF, type: 'line', xAxisIndex: gi, yAxisIndex: gi, data: [[k0, INV_SQRT_N], [k1, INV_SQRT_N]],
    symbol: 'none', showSymbol: false, clip: false, z: 2, silent: true,
    lineStyle: { color: '#000', width: 1.3 }, itemStyle: { color: '#000' }
  };
  if (p.kc !== null) {
    ref.markLine = { symbol: 'none', silent: true, precision: 6, label: { show: false }, animation: false,
      lineStyle: { type: 'solid', color: p.kcStyle.color, width: p.kcStyle.width, opacity: p.kcStyle.opacity },
      data: [{ xAxis: p.kc }] };
  }
  series.push(ref);
  const cap = p.big ? 2.2 : 1.8;
  [[inc, RED, INC], [dec, BLUE, DEC]].forEach(([d, col, nm], si) => {
    series.push({ name: nm + ' line ' + gi, type: 'line', xAxisIndex: gi, yAxisIndex: gi,
      data: d.map(r => [r[0], r[1]]), symbol: 'none', showSymbol: false, clip: true, silent: true,
      z: 3 + si * 2, lineStyle: { color: col, width: 1, opacity: 0.55 }, itemStyle: { color: col } });
    series.push({ name: nm, type: 'custom', xAxisIndex: gi, yAxisIndex: gi, data: d,
      encode: { x: 0, y: 1 }, clip: true, silent: true, z: 4 + si * 2,
      itemStyle: { color: col }, renderItem: errorBars(col, cap) });
  });

  const big = p.big;
  const iw = big ? 31 : 21, ih = big ? 17 : 10, fs = big ? 15 : 10;
  legends.push({
    orient: 'vertical', left: p.left + (big ? 11 : 7), top: p.top + (big ? 8 : 5),
    itemWidth: iw, itemHeight: ih, itemGap: big ? 6 : 5.5,
    padding: big ? [5.5, 7, 5.5, 5] : [5, 4, 4.5, 4],
    backgroundColor: '#ffffff', borderColor: '#cccccc', borderWidth: 1, borderRadius: 3,
    shadowColor: 'rgba(0,0,0,0.3)', shadowBlur: 1, shadowOffsetX: 2, shadowOffsetY: 2,
    selectedMode: false, symbolKeepAspect: true,
    textStyle: { fontFamily: SERIF, fontSize: fs, color: '#2b2b2b', padding: [0, 0, 0, big ? 6 : 3],
      rich: { i: { fontFamily: SERIF, fontSize: fs, fontStyle: 'italic', color: '#2b2b2b' } } },
    formatter: name => name === REF ? '1/\u221A{i|N}' : '{i|R\u0304}' + name.slice(2),
    data: [
      { name: REF, icon: lineIcon(iw), itemStyle: { color: '#000', borderWidth: 0 } },
      { name: INC, icon: errIcon(iw, ih), itemStyle: { color: RED, borderWidth: 0 } },
      { name: DEC, icon: errIcon(iw, ih), itemStyle: { color: BLUE, borderWidth: 0 } }
    ]
  });
});

const chart = echarts.init(document.getElementById('c'), null, { renderer: 'canvas' });
chart.setOption({
  backgroundColor: '#ffffff', animation: false,
  grid: grids, xAxis: xAxes, yAxis: yAxes, legend: legends, series: series
});

// K_c^theory annotations, placed in data coordinates through the chart's own scales
const kcRich = {
  k: { fontFamily: SERIF, fontStyle: 'italic', fontSize: 13, fill: '#333', lineHeight: 18, verticalAlign: 'middle' },
  c: { fontFamily: SERIF, fontStyle: 'italic', fontSize: 8, fill: '#333', lineHeight: 18, verticalAlign: 'bottom' },
  t: { fontFamily: SERIF, fontSize: 8.5, fill: '#333', lineHeight: 18, verticalAlign: 'top' }
};
const graphics = [];
panels.forEach((p, gi) => {
  if (!p.kcLabel) return;
  const px = chart.convertToPixel({ gridIndex: gi }, p.kcLabel);
  graphics.push({ type: 'text', x: px[0], y: px[1], silent: true, z: 10,
    style: { text: '{k|K}{c|c}{t|theory}', rich: kcRich, align: 'right', verticalAlign: 'middle', fill: '#333' } });
});
chart.setOption({ graphic: graphics });
</script></body></html>
